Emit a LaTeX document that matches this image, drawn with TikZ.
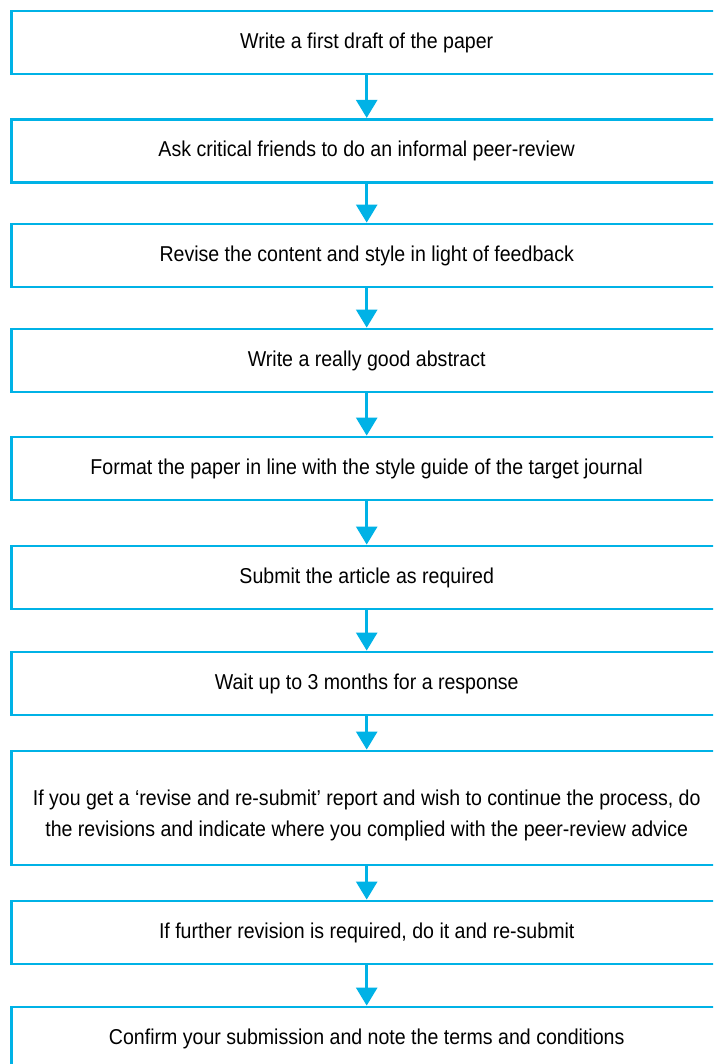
\documentclass[tikz,border=0pt]{standalone}
\usepackage{fontspec}
\setmainfont{Liberation Sans}[FakeStretch=0.91]
\usetikzlibrary{arrows.meta}
\definecolor{flowblue}{RGB}{0,178,230}
\begin{document}
\begin{tikzpicture}[x=1pt,y=-1pt,
  stepbox/.style={draw=flowblue, line width=2.8pt, fill=white,
    minimum width=711pt, minimum height=63pt, inner sep=0pt,
    align=center, font=\fontsize{21.5}{31}\selectfont},
  flowarrow/.style={draw=flowblue, line width=2.6pt,
    -{Triangle[width=21pt,length=18pt]}}]
\useasboundingbox (0,0) rectangle (713,1064);
\clip (0,0) rectangle (713,1064);
\fill[white] (0,0) rectangle (713,1064);
\node[stepbox] (b1) at (366.7,42.5) {Write a first draft of the paper};
\node[stepbox] (b2) at (366.7,150.8) {Ask critical friends to do an informal peer-review};
\node[stepbox] (b3) at (366.7,255.5) {Revise the content and style in light of feedback};
\node[stepbox] (b4) at (366.7,360.5) {Write a really good abstract};
\node[stepbox] (b5) at (366.7,468.5) {Format the paper in line with the style guide of the target journal};
\node[stepbox] (b6) at (366.7,577.5) {Submit the article as required};
\node[stepbox] (b7) at (366.7,683.5) {Wait up to 3 months for a response};
\node[stepbox, minimum height=114pt] (b8) at (366.7,808) {\rule{0pt}{30pt}If you get a ‘revise and re-submit’ report and wish to continue the process, do\\the revisions and indicate where you complied with the peer-review advice};
\node[stepbox] (b9) at (366.7,932.5) {If further revision is required, do it and re-submit};
\node[stepbox] (b10) at (366.7,1038.5) {Confirm your submission and note the terms and conditions};
\foreach \a/\b in {b1/b2,b2/b3,b3/b4,b4/b5,b5/b6,b6/b7,b7/b8,b8/b9,b9/b10}
  \draw[flowarrow] (\a.south) -- (\b.north);
\end{tikzpicture}
\end{document}
